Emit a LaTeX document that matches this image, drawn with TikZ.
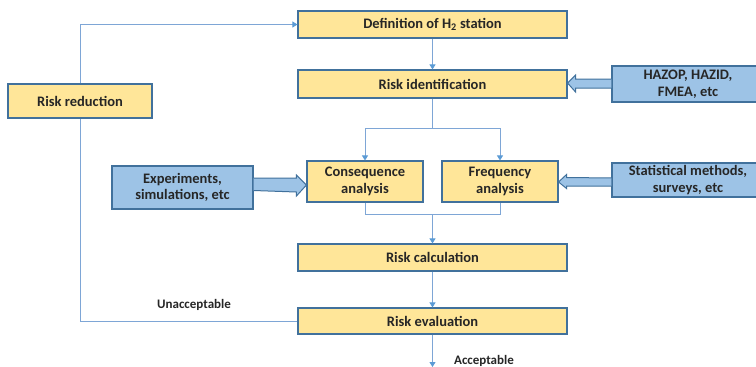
\documentclass[tikz,border=0pt]{standalone}
\usepackage{fontspec}
\setmainfont{Carlito}
\usetikzlibrary{arrows.meta,calc}
\definecolor{boxyellow}{HTML}{FFE699}
\definecolor{boxblue}{HTML}{9DC3E6}
\definecolor{edgeblue}{HTML}{41719C}
\definecolor{lineblue}{HTML}{7EA6D6}
\definecolor{tipblue}{HTML}{5B9BD5}
\begin{document}
\begin{tikzpicture}[x=1pt,y=-1pt,
  every node/.style={font=\fontsize{14.5}{16.5}\selectfont\bfseries, text=black!85, inner sep=0pt, align=center},
  ybox/.style={draw=edgeblue, fill=boxyellow, line width=1.1pt},
  bbox/.style={draw=edgeblue, fill=boxblue, line width=1.1pt},
  conn/.style={draw=lineblue, line width=0.9pt},
  arr/.style={conn, -{Triangle[width=6pt,length=5pt,fill=tipblue,color=tipblue]}},
  blockarr/.style={draw=edgeblue, fill=boxblue, line width=1pt, line join=miter},
  lbl/.style={fill=white, inner sep=3pt}
]
\useasboundingbox (0,0) rectangle (756,367);
% boxes
\node[ybox, minimum width=269pt, minimum height=27pt] (def) at (432.5,24.5) {Definition of H\textsubscript{2} station};
\node[ybox, minimum width=269pt, minimum height=28pt] (rid) at (432.5,84) {Risk identification};
\node[bbox, minimum width=152pt, minimum height=36pt] (hazop) at (688,84) {HAZOP, HAZID,\\FMEA, etc};
\node[ybox, minimum width=144pt, minimum height=34pt] (rr) at (80,101) {Risk reduction};
\node[ybox, minimum width=116pt, minimum height=41pt] (cons) at (365,181.5) {Consequence\\analysis};
\node[ybox, minimum width=116pt, minimum height=41pt] (freq) at (500,181.5) {Frequency\\analysis};
\node[bbox, minimum width=141pt, minimum height=43pt] (exp) at (182.5,187.5) {Experiments,\\simulations, etc};
\node[bbox, minimum width=152pt, minimum height=34pt] (stat) at (688,180) {Statistical methods,\\surveys, etc};
\node[ybox, minimum width=269pt, minimum height=27pt] (calc) at (432.5,257.5) {Risk calculation};
\node[ybox, minimum width=269pt, minimum height=26pt] (eval) at (432.5,321) {Risk evaluation};
% labels
\node[lbl] (unacc) at (194,305) {\fontsize{13}{15}\selectfont Unacceptable};
\node[lbl] (acc) at (484,361) {\fontsize{13}{15}\selectfont Acceptable};
% coordinates
\coordinate (split) at (432.5,128);
\coordinate (join) at (432.5,214);
\coordinate (bottom) at (432.5,367);
% connectors
\draw[conn] (rid.south) -- (split);
\draw[conn] (cons.north |- split) -- (freq.north |- split);
\draw[arr] (cons.north |- split) -- (cons.north);
\draw[arr] (freq.north |- split) -- (freq.north);
\draw[conn] (cons.south) -- (cons.south |- join) -- (freq.south |- join) -- (freq.south);
\draw[arr] (join) -- (calc.north);
\draw[arr] (def.south) -- (rid.north);
\draw[arr] (calc.south) -- (eval.north);
\draw[arr] (eval.south) -- (bottom);
\draw[arr] (rr.north) -- (rr.north |- def.west) -- (def.west);
\draw[conn] (eval.west) -- (rr.south |- eval.west) -- (rr.south);
% block arrows
\draw[blockarr] ($(hazop.west)+(0,-5)$) -- ($(rid.east)+(8,-5)$) -- ($(rid.east)+(8,-9)$) -- ($(rid.east)+(0,-1)$) -- ($(rid.east)+(8,8)$) -- ($(rid.east)+(8,4)$) -- ($(hazop.west)+(0,4)$);
\draw[blockarr] ($(stat.west)+(0,-2)$) -- ($(freq.east)+(8,-4)$) -- ($(freq.east)+(8,-7)$) -- ($(freq.east)+(0,0.5)$) -- ($(freq.east)+(8,7)$) -- ($(freq.east)+(8,4.5)$) -- ($(stat.west)+(0,6)$);
\draw[blockarr] ($(exp.east)+(0,-9.5)$) -- ($(cons.west)+(-10,-3.5)$) -- ($(cons.west)+(-10,-6.5)$) -- ($(cons.west)+(0,3.5)$) -- ($(cons.west)+(-10,14.5)$) -- ($(cons.west)+(-10,10.5)$) -- ($(exp.east)+(0,3)$);
\end{tikzpicture}
\end{document}
